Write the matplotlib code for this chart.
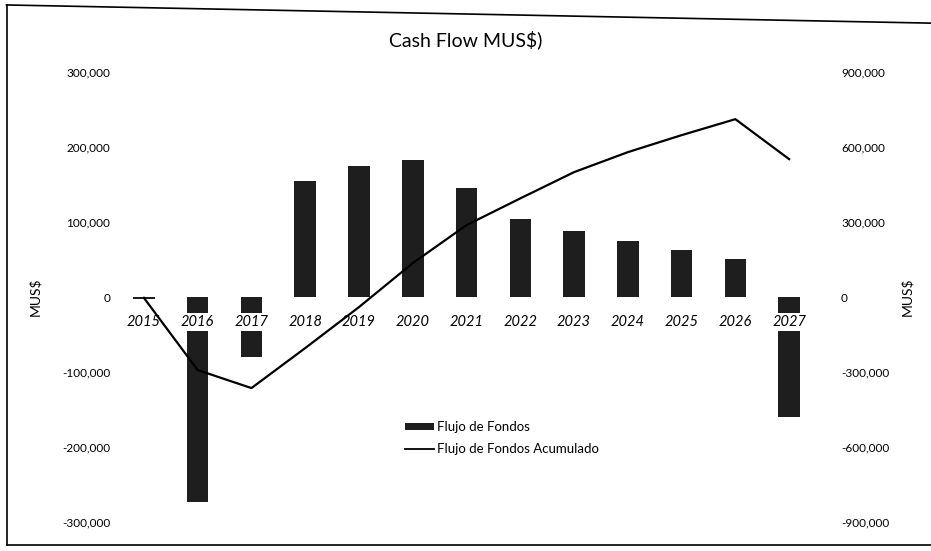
import numpy as np
import matplotlib.pyplot as plt
from matplotlib.ticker import FuncFormatter
from matplotlib.lines import Line2D
from matplotlib.patches import Patch

plt.rcParams['font.family'] = ['Lato', 'DejaVu Sans']

years = ['2015', '2016', '2017', '2018', '2019', '2020', '2021',
         '2022', '2023', '2024', '2025', '2026', '2027']
# yearly cash flow (MUS$)
flujo = [-3000, -273000, -80000, 155000, 175000, 183000, 145000,
         104000, 88000, 75000, 63000, 51000, -160000]
# accumulated cash flow (MUS$), right axis
acumulado = [-3000, -292000, -364000, -204000, -40000, 136000, 288000,
             395000, 500000, 580000, 648000, 712000, 552000]

left_ticks = [-300000, -200000, -100000, 0, 100000, 200000, 300000]
right_ticks = [-900000, -600000, -300000, 0, 300000, 600000, 900000]


def miles(v, pos):
    if v == 0:
        return '0'
    return '{:,.0f}'.format(v)


fig = plt.figure(figsize=(9.31, 5.51), dpi=100)
ax = fig.add_axes([0.1257, 0.0526, 0.7508, 0.8164])
ax2 = ax.twinx()

x = np.arange(len(years))
ax.bar(x, flujo, width=0.4, color='#1e1e1e', zorder=1)
ax2.plot(x, acumulado, color='black', lw=1.6, zorder=3)

ax.set_xlim(-0.5, len(years) - 0.5)
ax.set_ylim(-300000, 300000)
ax2.set_ylim(-900000, 900000)
ax.set_yticks(left_ticks)
ax2.set_yticks(right_ticks)
ax.yaxis.set_major_formatter(FuncFormatter(miles))
ax2.yaxis.set_major_formatter(FuncFormatter(miles))

# category labels sit just under the zero line, over the bars
ax.spines['bottom'].set_position(('data', 0))
ax.xaxis.set_zorder(4)
ax.set_xticks(x)
ax.set_xticklabels(years, fontsize=10.5, fontstyle='italic')
for lbl in ax.get_xticklabels():
    lbl.set_bbox(dict(facecolor='white', edgecolor='none', pad=1.5))
ax.tick_params(axis='x', length=0, pad=13)
ax.tick_params(axis='y', length=0, labelsize=8.5, pad=5)
ax2.tick_params(axis='y', length=0, labelsize=8.5, pad=18)

for a in (ax, ax2):
    for s in a.spines.values():
        s.set_visible(False)

ax.set_ylabel('MUS$', fontsize=10)
ax.yaxis.set_label_coords(-0.108, 0.5)
ax2.set_ylabel('MUS$', fontsize=10, rotation=90, labelpad=8)

fig.text(0.5, 0.928, 'Cash Flow MUS$)', ha='center', va='center', fontsize=14)

handles = [Patch(facecolor='#1e1e1e'), Line2D([], [], color='black', lw=1.3)]
ax.legend(handles, ['Flujo de Fondos', 'Flujo de Fondos Acumulado'],
          loc='upper left', bbox_to_anchor=(0.395, 0.25), frameon=False,
          fontsize=9.5, handlelength=2.2, handleheight=0.4, handletextpad=0.2,
          labelspacing=0.7)

# outer frame of the chart
frame = dict(color='black', lw=1.2, transform=fig.transFigure)
fig.add_artist(Line2D([0.007, 1.0], [0.991, 0.958], **frame))
fig.add_artist(Line2D([0.007, 0.007], [0.991, 0.01], **frame))
fig.add_artist(Line2D([0.007, 1.0], [0.01, 0.01], **frame))

fig.savefig('out.png', dpi=100)
